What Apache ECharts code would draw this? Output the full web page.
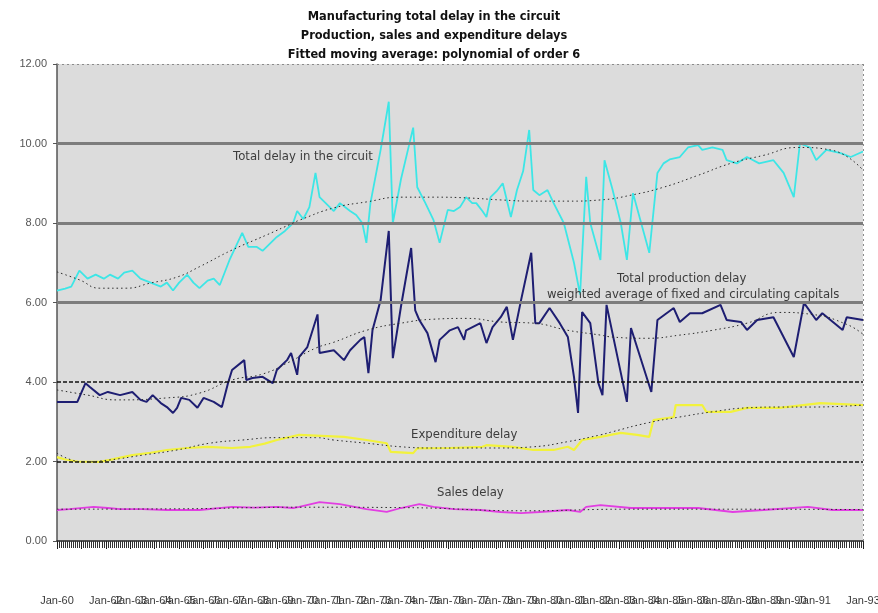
<!DOCTYPE html>
<html>
<head>
<meta charset="utf-8">
<script src="https://cdn.jsdelivr.net/npm/echarts@6/dist/echarts.min.js"></script>
<style>
  html, body { margin: 0; padding: 0; background: #ffffff; }
  #chart { width: 878px; height: 613px; }
</style>
</head>
<body>
<div id="chart"></div>
<script>
// Time is counted in months from Jan-60 (0) to Jan-93 (396).
const firstYear = 60;
const monthsSpan = 396;
const yTicks = [0, 2, 4, 6, 8, 10, 12];

// Total delay in the circuit
const totalMonths = [0,4,7,11,15,19,23,26,30,33,37,41,46,51,54,57,60,64,67,70,74,77,80,85,91,94,98,101,105,108,112,116,118,121,124,127,129,136,139,144,147,150,152,154,159,163,165,169,175,177,181,185,188,192,195,198,201,204,206,209,211,213,216,219,223,226,229,232,234,237,241,244,249,254,257,260,262,267,269,273,277,280,283,287,291,295,298,301,306,310,315,317,322,327,329,334,339,345,352,357,362,365,370,373,378,385,390,396];
const totalDelay = [6.3,6.35,6.4,6.8,6.6,6.7,6.6,6.7,6.6,6.75,6.8,6.6,6.5,6.4,6.5,6.3,6.5,6.7,6.5,6.36,6.55,6.6,6.44,7.1,7.75,7.4,7.4,7.3,7.5,7.65,7.8,8.0,8.3,8.1,8.4,9.26,8.65,8.3,8.5,8.3,8.2,8.0,7.5,8.5,9.84,11.05,8.0,9.1,10.4,8.9,8.5,8.07,7.5,8.33,8.3,8.4,8.65,8.5,8.5,8.3,8.15,8.65,8.8,9.0,8.15,8.83,9.3,10.34,8.83,8.7,8.83,8.5,8.0,7.0,6.2,9.16,8.0,7.07,9.58,8.83,8.0,7.07,8.75,8.0,7.25,9.26,9.5,9.6,9.66,9.9,9.96,9.84,9.9,9.84,9.58,9.5,9.66,9.5,9.58,9.26,8.65,10.0,9.9,9.58,9.84,9.76,9.66,9.8];
const totalFitMonths = [0,11,21,34,46,59,70,86,103,116,119,136,152,169,185,202,218,234,251,267,282,298,315,331,347,364,380,396];
const totalFit = [6.77,6.57,6.36,6.36,6.49,6.64,6.9,7.32,7.7,8.0,8.07,8.38,8.53,8.65,8.65,8.63,8.58,8.55,8.55,8.58,8.7,8.9,9.2,9.5,9.7,9.9,9.84,9.33];

// Total production delay
const prodMonths = [0,10,14,16,21,25,31,37,41,44,47,51,54,57,59,61,65,69,72,77,81,84,86,92,93,96,101,106,108,113,115,118,119,123,128,129,136,141,144,149,151,153,155,159,163,165,169,174,176,178,182,186,188,193,197,200,201,208,211,214,218,221,224,228,233,235,237,242,247,251,254,256,258,262,266,268,270,280,282,292,295,303,306,311,317,326,329,336,339,344,352,362,367,373,376,386,388,396];
const prodDelay = [3.5,3.5,3.97,3.88,3.67,3.75,3.67,3.75,3.55,3.5,3.67,3.47,3.37,3.22,3.35,3.6,3.55,3.35,3.6,3.5,3.37,3.97,4.3,4.55,4.05,4.1,4.13,3.97,4.3,4.55,4.73,4.18,4.63,4.88,5.7,4.73,4.8,4.55,4.8,5.06,5.13,4.22,5.3,6.06,7.8,4.6,5.9,7.37,5.8,5.56,5.23,4.5,5.06,5.3,5.38,5.06,5.3,5.48,4.98,5.38,5.63,5.89,5.06,6.06,7.25,5.48,5.48,5.86,5.48,5.13,4.13,3.22,5.76,5.48,3.97,3.67,5.94,3.5,5.36,3.75,5.56,5.86,5.51,5.73,5.73,5.94,5.56,5.51,5.31,5.56,5.63,4.63,5.99,5.56,5.73,5.31,5.63,5.56];
const prodFitMonths = [0,15,29,54,70,86,101,114,127,136,152,169,185,201,218,234,251,267,273,290,306,322,339,355,371,388,396];
const prodFit = [3.8,3.67,3.55,3.6,3.72,4.05,4.2,4.5,4.85,5.0,5.3,5.48,5.58,5.6,5.51,5.48,5.3,5.18,5.13,5.1,5.18,5.3,5.48,5.75,5.7,5.45,5.2];

// Expenditure delay
const expMonths = [0,4,10,21,26,37,46,54,64,74,86,95,102,108,119,141,152,162,164,175,177,193,209,211,224,234,244,251,254,258,267,277,285,291,293,303,304,317,319,331,339,355,375,396];
const expDelay = [2.11,2.05,2.0,1.99,2.04,2.16,2.22,2.29,2.34,2.37,2.34,2.37,2.45,2.54,2.67,2.62,2.54,2.46,2.24,2.21,2.33,2.34,2.37,2.41,2.37,2.29,2.29,2.37,2.29,2.54,2.62,2.72,2.67,2.62,3.04,3.12,3.42,3.42,3.25,3.25,3.35,3.35,3.47,3.42];
const expFitMonths = [0,13,26,42,59,75,91,108,127,136,152,169,185,201,218,234,251,267,273,290,306,322,339,355,371,396];
const expFit = [2.21,1.99,2.04,2.16,2.29,2.46,2.54,2.6,2.6,2.54,2.46,2.37,2.34,2.34,2.34,2.37,2.5,2.67,2.75,2.97,3.12,3.25,3.35,3.37,3.37,3.42];

// Sales delay
const salesMonths = [0,6,18,25,31,42,54,70,86,97,108,116,119,129,139,152,162,169,178,185,195,208,218,228,237,251,257,260,267,282,298,315,332,347,369,381,396];
const salesDelay = [0.78,0.8,0.86,0.83,0.8,0.8,0.78,0.78,0.86,0.84,0.86,0.83,0.86,0.98,0.93,0.8,0.73,0.83,0.93,0.86,0.8,0.78,0.73,0.7,0.73,0.78,0.73,0.86,0.9,0.83,0.83,0.83,0.73,0.78,0.86,0.78,0.78];
const salesFitMonths = [0,60,120,170,230,280,340,396];
const salesFit = [0.8,0.81,0.85,0.84,0.76,0.8,0.8,0.79];

const pairs = (xs, ys) => xs.map((x, i) => [x, ys[i]]);

function dataLine(name, xs, ys, color, width) {
  return {
    name: name, type: 'line', data: pairs(xs, ys), z: 4,
    symbol: 'none', smooth: false, animation: false,
    lineStyle: { color: color, width: width }
  };
}
function fitLine(name, xs, ys) {
  return {
    name: name, type: 'line', data: pairs(xs, ys), z: 5,
    symbol: 'none', smooth: true, animation: false,
    lineStyle: { color: '#2a2a2a', width: 1, type: [1.5, 3] }
  };
}

const chart = echarts.init(document.getElementById('chart'), null, { renderer: 'canvas' });

const sansFam = 'Liberation Sans, Arial, sans-serif';
const wideFam = 'DejaVu Sans, Verdana, sans-serif';
// Annotation placed with its left edge at x and vertical centre at y
const note = (text, x, y) => ({
  type: 'text', x: x, y: y, z: 10, silent: true,
  style: { text: text, fill: '#3c3c3c', font: '11.7px ' + wideFam, verticalAlign: 'middle', align: 'left' }
});

chart.setOption({
  backgroundColor: '#ffffff',
  animation: false,
  title: {
    text: 'Manufacturing total delay in the circuit\nProduction, sales and expenditure delays\nFitted moving average: polynomial of order 6',
    left: 429, top: 3, textAlign: 'center',
    textStyle: { fontFamily: wideFam, fontSize: 11.4, fontWeight: 'bold', color: '#111', lineHeight: 19 }
  },
  grid: {
    left: 57, right: 15, top: 64, bottom: 72,
    containLabel: false, outerBoundsMode: 'none',
    show: true, backgroundColor: '#dcdcdc', borderWidth: 0
  },
  xAxis: {
    type: 'value', min: 0, max: monthsSpan, interval: 12,
    axisLine: { show: true, lineStyle: { color: '#222', width: 1.5 } },
    axisTick: { show: true, length: 8, lineStyle: { color: '#222', width: 1 } },
    minorTick: { show: true, splitNumber: 12, length: 7, lineStyle: { color: '#333', width: 1 } },
    splitLine: { show: false },
    axisLabel: {
      margin: 54, fontSize: 11, color: '#3a3a3a', fontFamily: sansFam, hideOverlap: false,
      showMinLabel: true, showMaxLabel: true,
      formatter: v => 'Jan-' + String(firstYear + v / 12)
    }
  },
  yAxis: {
    type: 'value', min: yTicks[0], max: yTicks[yTicks.length - 1], interval: 2,
    axisLine: { show: true, lineStyle: { color: '#555', width: 1.5 } },
    axisTick: { show: true, length: 4, lineStyle: { color: '#555' } },
    splitLine: { show: false },
    axisLabel: {
      margin: 10, fontSize: 11, color: '#555', fontFamily: sansFam,
      formatter: v => v.toFixed(2)
    }
  },
  graphic: [
    note('Total delay in the circuit', 233, 157),
    note('Total production delay', 617, 279),
    note('weighted average of fixed and circulating capitals', 547, 295),
    note('Expenditure delay', 411, 435),
    note('Sales delay', 437, 493)
  ],
  series: [
    {
      name: 'grid', type: 'line', data: [], z: 1, silent: true,
      markLine: {
        silent: true, symbol: 'none', animation: false,
        label: { show: false },
        data: [
          { yAxis: 2, lineStyle: { color: '#111', width: 1.5, type: [4, 2] } },
          { yAxis: 4, lineStyle: { color: '#111', width: 1.5, type: [4, 2] } },
          { yAxis: 6, lineStyle: { color: '#7d7d7d', width: 3, type: 'solid' } },
          { yAxis: 8, lineStyle: { color: '#7d7d7d', width: 3, type: 'solid' } },
          { yAxis: 10, lineStyle: { color: '#7d7d7d', width: 3, type: 'solid' } },
          { yAxis: 12, lineStyle: { color: '#8a8a8a', width: 1, type: [2, 3] } },
          { xAxis: monthsSpan, lineStyle: { color: '#8a8a8a', width: 1, type: [2, 3] } }
        ]
      }
    },
    dataLine('Sales delay', salesMonths, salesDelay, '#e23ee2', 1.8),
    dataLine('Expenditure delay', expMonths, expDelay, '#f2f23c', 2.2),
    dataLine('Total production delay', prodMonths, prodDelay, '#1e1e72', 2),
    dataLine('Total delay in the circuit', totalMonths, totalDelay, '#3de6e6', 1.8),
    fitLine('Sales fit', salesFitMonths, salesFit),
    fitLine('Expenditure fit', expFitMonths, expFit),
    fitLine('Production fit', prodFitMonths, prodFit),
    fitLine('Total fit', totalFitMonths, totalFit)
  ]
});
</script>
</body>
</html>
